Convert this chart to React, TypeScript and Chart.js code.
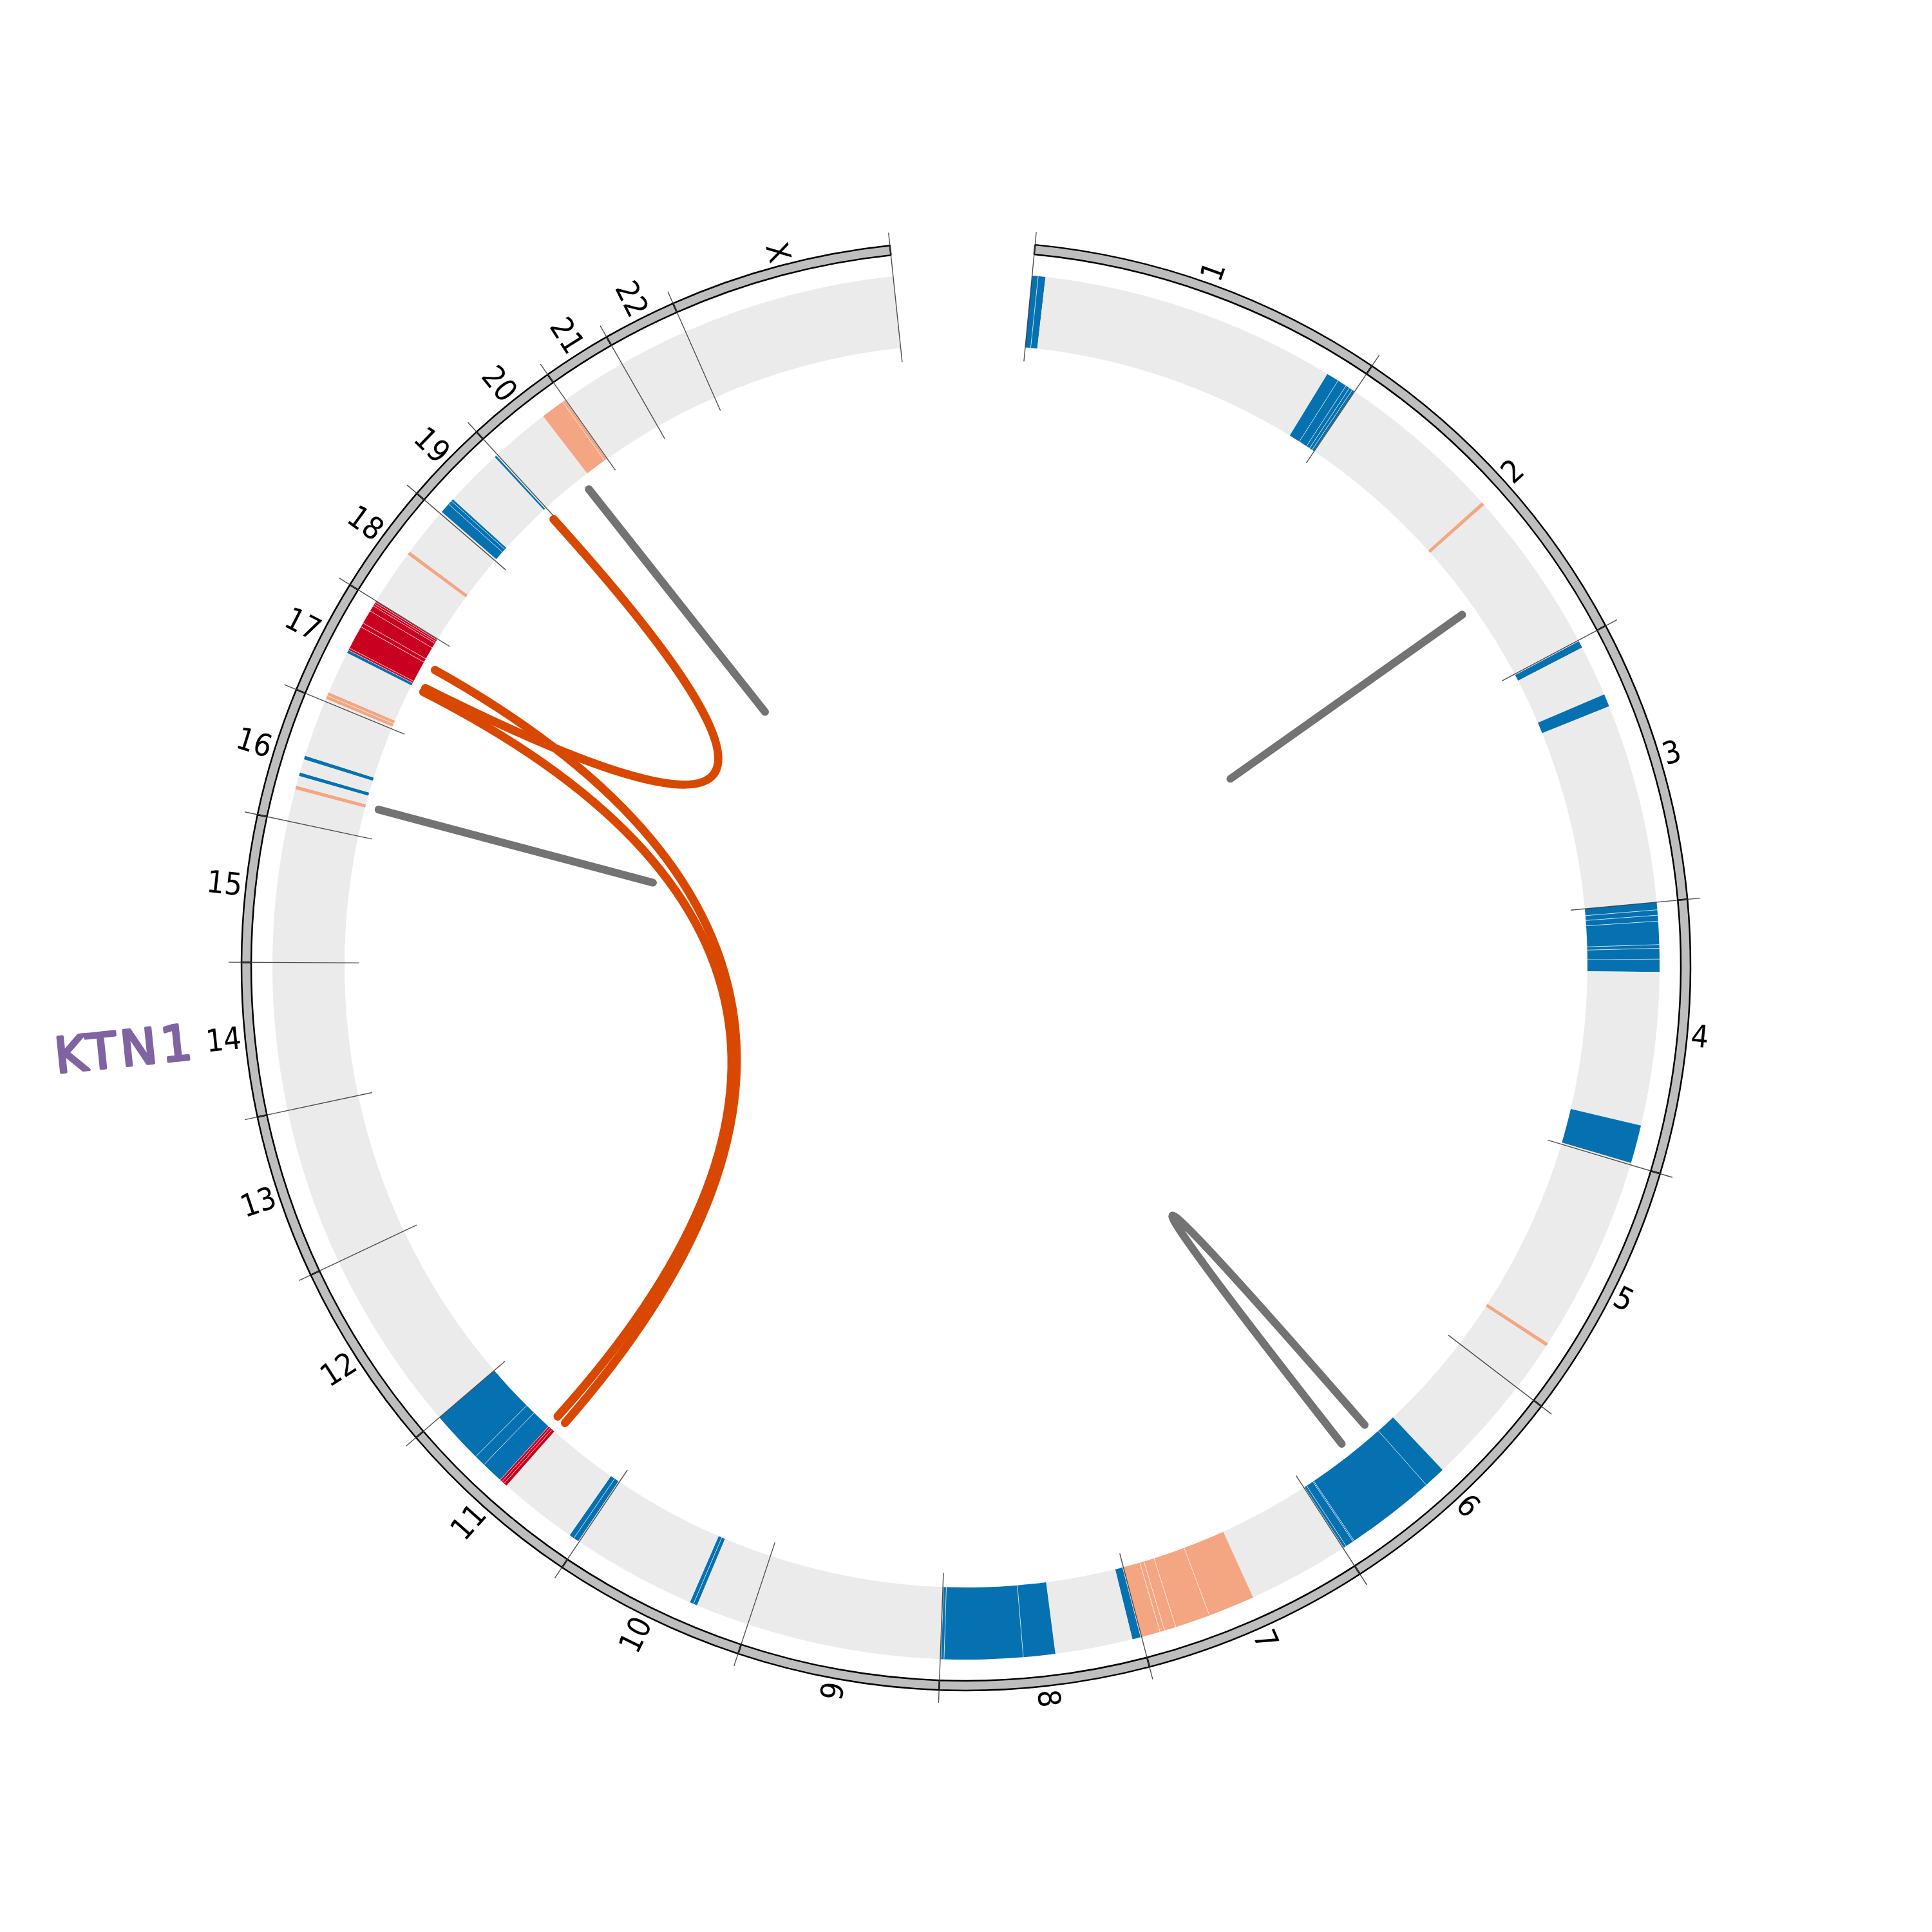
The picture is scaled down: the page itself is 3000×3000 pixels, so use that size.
import React, { useEffect, useRef } from 'react';
import { Chart, registerables } from 'chart.js';

Chart.register(...registerables);

// ---- Data -------------------------------------------------------------
const CHROM_NAMES = ['1', '2', '3', '4', '5', '6', '7', '8', '9', '10', '11', '12', '13', '14', '15', '16', '17', '18', '19', '20', '21', '22', 'X'];
// chromosome lengths (Mb, hg19)
const CHROM_LENGTHS = [249.25, 243.2, 198.02, 191.15, 180.92, 171.12, 159.14, 146.36, 141.21, 135.53, 135.01, 133.85, 115.17, 107.35, 102.53, 90.35, 81.2, 78.08, 59.13, 63.03, 48.13, 51.3, 155.27];
// empty arc left open at the top (Mb equivalent)
const GENOME_GAP = 100.2;

// copy-number regions: [chromosome, start Mb, end Mb, kind]
const REGIONS: [string, number, number, string][] = [
  ['1', 0, 4.4, 'loss'], ['1', 4.4, 9.7, 'loss'],
  ['1', 225.9, 235, 'loss'], ['1', 235, 241.8, 'loss'], ['1', 241.8, 244.8, 'loss'], ['1', 244.8, 247.2, 'loss'], ['1', 247.2, 249.0, 'loss'],
  ['2', 121.7, 124.3, 'gain'],
  ['3', 0.8, 5.9, 'loss'], ['3', 43.2, 52.4, 'loss'],
  ['4', 0, 5.5, 'loss'], ['4', 5.5, 9.4, 'loss'], ['4', 9.4, 13.7, 'loss'], ['4', 13.7, 30.6, 'loss'], ['4', 30.6, 33.2, 'loss'], ['4', 33.2, 41, 'loss'], ['4', 41, 50.3, 'loss'],
  ['4', 161.9, 189.8, 'loss'],
  ['5', 141.9, 144.5, 'gain'],
  ['6', 79.9, 95.8, 'loss'], ['6', 95.8, 161.6, 'loss'], ['6', 161.6, 162.5, 'loss'], ['6', 162.5, 168.5, 'loss'], ['6', 168.5, 170.5, 'loss'],
  ['7', 73.9, 107.9, 'gain'], ['7', 107.9, 133.5, 'gain'], ['7', 133.5, 142, 'gain'], ['7', 142, 145.4, 'gain'], ['7', 145.4, 159.1, 'gain'],
  ['8', 0.8, 6.8, 'loss'], ['8', 63.3, 86.5, 'loss'], ['8', 86.5, 143.6, 'loss'], ['8', 143.6, 145.9, 'loss'], ['8', 145.9, 146.3, 'loss'],
  ['10', 39.1, 41.8, 'loss'], ['10', 41.8, 44.6, 'loss'],
  ['11', 0.9, 4.6, 'loss'], ['11', 4.6, 8.3, 'loss'],
  ['11', 66.2, 68.5, 'amp'], ['11', 68.5, 70.5, 'amp'], ['11', 70.5, 72.3, 'amp'],
  ['11', 72.3, 88.3, 'loss'], ['11', 88.3, 96.6, 'loss'], ['11', 96.6, 134.9, 'loss'],
  ['16', 23.6, 26.2, 'gain'], ['16', 33.5, 36.1, 'loss'], ['16', 46.0, 48.6, 'loss'],
  ['17', 2.0, 4.5, 'gain'], ['17', 4.5, 7.1, 'gain'],
  ['17', 38.4, 40.6, 'loss'],
  ['17', 40.6, 42.2, 'amp'], ['17', 42.2, 59.6, 'amp'], ['17', 59.6, 62.7, 'amp'], ['17', 62.7, 72.8, 'amp'], ['17', 72.8, 77.1, 'amp'], ['17', 77.1, 78.7, 'amp'], ['17', 78.7, 80.2, 'amp'], ['17', 80.2, 81.0, 'amp'],
  ['18', 40.4, 43.0, 'gain'],
  ['19', 1.6, 9.1, 'loss'], ['19', 9.1, 12.1, 'loss'], ['19', 12.1, 13.8, 'loss'], ['19', 56.6, 58.0, 'loss'],
  ['20', 43.0, 60.4, 'gain'], ['20', 60.4, 62.6, 'gain'],
];

// structural-variant links: [chrA, pos A Mb, chrB, pos B Mb, type]
const LINKS: [string, number, string, number, string][] = [
  ['17', 41.5, '19', 57.3, 'inter'],
  ['17', 38.0, '11', 72.3, 'inter'],
  ['17', 58.4, '11', 64.2, 'inter'],
  ['2', 179.6, '2', 179.8, 'intra'],
  ['6', 101.0, '6', 125.4, 'intra'],
  ['20', 36.1, '20', 36.3, 'intra'],
  ['16', 24.7, '16', 24.9, 'intra'],
];

// gene labels: [name, chromosome, position Mb]
const GENE_LABELS: [string, string, number][] = [['KTN1', '14', 53.2]];

// ---- Styles -----------------------------------------------------------
const KIND_COLORS: Record<string, string> = { loss: '#0571b0', gain: '#f4a582', amp: '#ca0020' };
const LINK_COLORS: Record<string, string> = { inter: '#d94801', intra: '#737373' };
const LINK_WIDTHS: Record<string, number> = { inter: 13, intra: 12 };
const TRACK_GRAY = '#ebebeb';
const IDEO_FILL = '#bebebe';
const ROTATION_DEG = 5.47;
const R_OUTER = 1125;
const R_IDEO_IN = 1110;
const R_TRACK_OUT = 1077;
const R_TRACK_IN = 965;
const R_LINK = 944;
const R_TICK_IN = 943;
const R_TICK_OUT = 1145;
const R_LABEL = 1131;
const R_GENE = 1312;

function buildTrack() {
  const data: number[] = [];
  const colors: string[] = [];
  CHROM_NAMES.forEach((c, i) => {
    const regs = REGIONS.filter((r) => r[0] === c).sort((a, b) => a[1] - b[1]);
    let cur = 0;
    regs.forEach(([, s, e, k]) => {
      if (s > cur) {
        data.push(s - cur);
        colors.push(TRACK_GRAY);
      }
      data.push(e - s);
      colors.push(KIND_COLORS[k]);
      cur = e;
    });
    if (CHROM_LENGTHS[i] > cur) {
      data.push(CHROM_LENGTHS[i] - cur);
      colors.push(TRACK_GRAY);
    }
  });
  data.push(GENOME_GAP);
  colors.push('rgba(0,0,0,0)');
  return { data, colors };
}

const circosPlugin = {
  id: 'circosOverlay',
  afterDatasetsDraw(chart: any) {
    const ctx: CanvasRenderingContext2D = chart.ctx;
    const arcs = chart.getDatasetMeta(0).data as any[];
    const cx = arcs[0].x;
    const cy = arcs[0].y;
    const n = CHROM_NAMES.length;
    const angleOf = (chr: string, pos: number) => {
      const i = CHROM_NAMES.indexOf(chr);
      const a = arcs[i];
      return a.startAngle + ((a.endAngle - a.startAngle) * pos) / CHROM_LENGTHS[i];
    };
    const pt = (a: number, r: number) => [cx + r * Math.cos(a), cy + r * Math.sin(a)];

    ctx.save();
    // thin light seams between abutting regions
    ctx.strokeStyle = 'rgba(255,255,255,0.7)';
    ctx.lineWidth = 1;
    REGIONS.forEach(([c, s], idx) => {
      const prev = REGIONS[idx - 1];
      if (prev && prev[0] === c && Math.abs(prev[2] - s) < 1e-6) {
        const a = angleOf(c, s);
        const [x1, y1] = pt(a, R_TRACK_IN);
        const [x2, y2] = pt(a, R_TRACK_OUT);
        ctx.beginPath();
        ctx.moveTo(x1, y1);
        ctx.lineTo(x2, y2);
        ctx.stroke();
      }
    });

    // boundary ticks
    ctx.strokeStyle = 'rgba(60,60,60,0.9)';
    ctx.lineWidth = 1.4;
    for (let i = 0; i <= n; i++) {
      const a = i < n ? arcs[i].startAngle : arcs[n - 1].endAngle;
      const [x1, y1] = pt(a, R_TICK_IN);
      const [x2, y2] = pt(a, R_TICK_OUT);
      ctx.beginPath();
      ctx.moveTo(x1, y1);
      ctx.lineTo(x2, y2);
      ctx.stroke();
    }

    // links (inter first, intra on top)
    ['inter', 'intra'].forEach((type) => {
      LINKS.filter((l) => l[4] === type).forEach(([ca, pa, cb, pb, t]) => {
        const a1 = angleOf(ca, pa);
        const a2 = angleOf(cb, pb);
        let d = Math.abs(a1 - a2) % (2 * Math.PI);
        if (d > Math.PI) d = 2 * Math.PI - d;
        const c = d < Math.PI / 2 ? 62 * Math.cos(d) * Math.cos(d) : 0;
        let bx = Math.cos(a1) + Math.cos(a2);
        let by = Math.sin(a1) + Math.sin(a2);
        const bl = Math.hypot(bx, by) || 1;
        bx /= bl;
        by /= bl;
        const [x1, y1] = pt(a1, R_LINK);
        const [x2, y2] = pt(a2, R_LINK);
        ctx.beginPath();
        ctx.moveTo(x1, y1);
        ctx.quadraticCurveTo(cx + c * bx, cy + c * by, x2, y2);
        ctx.strokeStyle = LINK_COLORS[t];
        ctx.lineWidth = LINK_WIDTHS[t];
        ctx.lineCap = 'round';
        ctx.lineJoin = 'round';
        ctx.stroke();
      });
    });

    // chromosome labels (radial orientation)
    ctx.fillStyle = '#000';
    ctx.font = "48px 'DejaVu Sans Condensed', 'DejaVu Sans', sans-serif";
    ctx.textBaseline = 'middle';
    CHROM_NAMES.forEach((name, i) => {
      const a = (arcs[i].startAngle + arcs[i].endAngle) / 2;
      const top = ((((a + Math.PI / 2) * 180) / Math.PI) % 360 + 360) % 360;
      const [x, y] = pt(a, R_LABEL);
      ctx.save();
      ctx.translate(x, y);
      if (top < 180) {
        ctx.rotate(a);
        ctx.textAlign = 'left';
      } else {
        ctx.rotate(a - Math.PI);
        ctx.textAlign = 'right';
      }
      ctx.fillText(name, 0, 0);
      ctx.restore();
    });

    // gene labels
    GENE_LABELS.forEach(([g, chr, pos]) => {
      const a = angleOf(chr, pos);
      const top = ((((a + Math.PI / 2) * 180) / Math.PI) % 360 + 360) % 360;
      const [x, y] = pt(a, R_GENE);
      ctx.save();
      ctx.translate(x, y);
      ctx.rotate(top < 180 ? a : a - Math.PI);
      ctx.font = "76px 'DejaVu Sans', sans-serif";
      (ctx as any).letterSpacing = '6px';
      ctx.textAlign = 'center';
      ctx.textBaseline = 'middle';
      ctx.fillStyle = '#8064a2';
      ctx.strokeStyle = '#8064a2';
      ctx.lineWidth = 4;
      ctx.lineJoin = 'round';
      ctx.fillText(g, 0, 0);
      ctx.strokeText(g, 0, 0);
      ctx.restore();
    });
    ctx.restore();
  },
};

export default function App() {
  const ref = useRef<HTMLCanvasElement>(null);
  useEffect(() => {
    if (!ref.current) return;
    const track = buildTrack();
    const total = CHROM_LENGTHS.reduce((s, v) => s + v, 0) + GENOME_GAP;
    const ideoColors = CHROM_LENGTHS.map(() => IDEO_FILL).concat(['rgba(0,0,0,0)']);
    const ideoBorders = CHROM_LENGTHS.map(() => 2.5).concat([0]);
    const chart = new Chart(ref.current, {
      type: 'doughnut',
      data: {
        labels: CHROM_NAMES.concat(['']),
        datasets: [
          {
            data: CHROM_LENGTHS.concat([GENOME_GAP]),
            backgroundColor: ideoColors,
            borderColor: '#000',
            borderWidth: ideoBorders,
            weight: R_OUTER - R_IDEO_IN,
          } as any,
          {
            data: [total],
            backgroundColor: ['rgba(0,0,0,0)'],
            borderWidth: 0,
            weight: R_IDEO_IN - R_TRACK_OUT,
          } as any,
          {
            data: track.data,
            backgroundColor: track.colors,
            borderWidth: 0,
            weight: R_TRACK_OUT - R_TRACK_IN,
          } as any,
        ],
      },
      options: {
        responsive: false,
        animation: false,
        devicePixelRatio: 1,
        events: [],
        rotation: ROTATION_DEG,
        circumference: 360,
        radius: R_OUTER,
        cutout: ((R_TRACK_IN / R_OUTER) * 100).toFixed(3) + '%',
        layout: { padding: 0 },
        plugins: { legend: { display: false }, tooltip: { enabled: false } },
      } as any,
      plugins: [circosPlugin],
    });
    return () => chart.destroy();
  }, []);
  return (
    <div style={{ position: 'absolute', left: 0, top: 0, width: 3000, height: 3000, background: '#fff' }}>
      <canvas ref={ref} width={3000} height={3000} style={{ width: 3000, height: 3000, display: 'block' }} />
    </div>
  );
}
